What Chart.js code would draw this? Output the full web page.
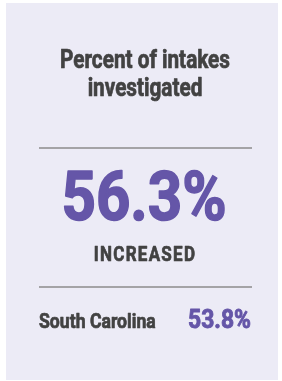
<!DOCTYPE html>
<html>
<head>
<meta charset="utf-8">
<script src="https://cdn.jsdelivr.net/npm/chart.js@4/dist/chart.umd.min.js"></script>
<style>
  html, body { margin: 0; padding: 0; background: #ffffff; }
  #content { width: 282px; height: 381px; }
</style>
</head>
<body>
<div id="content"></div>
<script>
// kpi card data
const titleLines = ['Percent of intakes', 'investigated'];
const categories = ['Selected', 'South Carolina'];
const seriesValues = [56.3, 53.8];
const statusLabels = ['INCREASED'];

const PURPLE = '#6556a8';
const DARK = '#424242';

function drawText(ctx, text, x, y, font, color, align, sx, spacing, weight) {
    ctx.save();
    ctx.translate(x, y);
    ctx.scale(sx, 1);
    ctx.font = font;
    ctx.fillStyle = color;
    ctx.strokeStyle = color;
    ctx.lineWidth = weight || 0.7;
    ctx.lineJoin = 'round';
    ctx.textAlign = align;
    ctx.textBaseline = 'alphabetic';
    ctx.letterSpacing = (spacing || 0) + 'px';
    ctx.fillText(text, 0, 0);
    ctx.strokeText(text, 0, 0);
    ctx.restore();
}

const cardPlugin = {
    id: 'kpiCard',
    beforeDraw(chart) {
        const ctx = chart.ctx;
        ctx.save();
        ctx.fillStyle = '#ecebf6';
        ctx.fillRect(6, 3, 272, 377);
        ctx.restore();
    },
    afterDraw(chart) {
        const ctx = chart.ctx;
        const vals = chart.data.datasets[0].data;
        const cats = chart.data.labels;
        const cx = 145;

        drawText(ctx, titleLines[0], cx, 68, 'bold 25px Roboto', DARK, 'center', 0.83);
        drawText(ctx, titleLines[1], cx, 96, 'bold 25px Roboto', DARK, 'center', 0.83);

        ctx.save();
        ctx.strokeStyle = '#8c8c8c';
        ctx.lineWidth = 1.5;
        ctx.beginPath();
        ctx.moveTo(39, 148); ctx.lineTo(252, 148);
        ctx.moveTo(39, 287); ctx.lineTo(252, 287);
        ctx.stroke();
        ctx.restore();

        drawText(ctx, vals[0].toFixed(1) + '%', 144, 220, 'bold 69px Roboto', PURPLE, 'center', 0.87, 0, 1.6);
        drawText(ctx, statusLabels[0], 145, 261, 'bold 20px Roboto', DARK, 'center', 0.85, 1.5);

        drawText(ctx, cats[1], 39, 328, 'bold 21px Roboto', DARK, 'left', 0.84);
        drawText(ctx, vals[1].toFixed(1) + '%', 251, 328, 'bold 26px Roboto', PURPLE, 'right', 0.88, 0, 0.9);
    }
};

function initializeChart() {
    const canvas = document.createElement('canvas');
    canvas.id = 'chartCanvas';
    canvas.width = 282;
    canvas.height = 381;
    document.getElementById('content').appendChild(canvas);

    new Chart(canvas.getContext('2d'), {
        type: 'bar',
        data: {
            labels: categories,
            datasets: [{
                label: titleLines.join(' '),
                data: seriesValues,
                backgroundColor: 'rgba(0,0,0,0)',
            }],
        },
        options: {
            responsive: false,
            animation: false,
            events: [],
            plugins: { legend: { display: false }, tooltip: { enabled: false } },
            scales: { x: { display: false }, y: { display: false } },
        },
        plugins: [cardPlugin],
    });
}

initializeChart();
</script>
</body>
</html>
